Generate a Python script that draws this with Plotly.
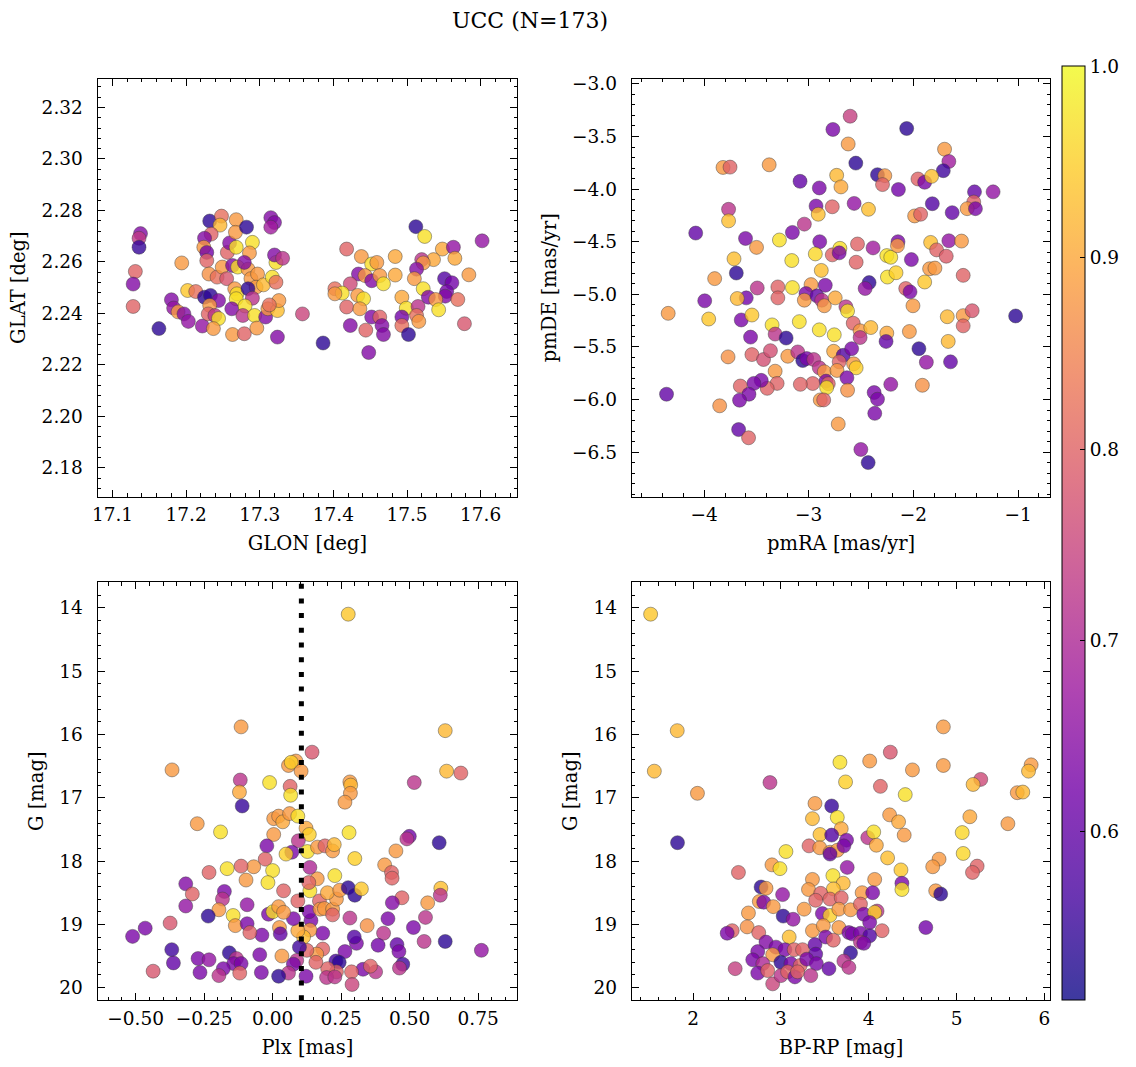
import plotly.graph_objects as go

TITLE = "UCC (N=173)"

# ---------------- Top-left: GLON vs GLAT ----------------
tl_glon = [17.138, 17.136, 17.136, 17.131, 17.128, 17.128, 17.163, 17.194, 17.180, 17.183,
           17.189, 17.197, 17.203, 17.202, 17.213, 17.222, 17.232, 17.248, 17.246, 17.234,
           17.225, 17.224, 17.228, 17.228, 17.231, 17.242, 17.249, 17.255, 17.225, 17.233,
           17.244, 17.232, 17.230, 17.239, 17.244, 17.237, 17.256, 17.259, 17.268, 17.268,
           17.267, 17.282, 17.290, 17.286, 17.263, 17.270, 17.284, 17.279, 17.288, 17.297,
           17.295, 17.305, 17.317, 17.322, 17.322, 17.320, 17.331, 17.315, 17.320, 17.315,
           17.266, 17.269, 17.268, 17.284, 17.290, 17.262, 17.280, 17.277, 17.293, 17.263,
           17.279, 17.296, 17.308, 17.311, 17.324, 17.326, 17.313, 17.324, 17.358, 17.386,
           17.418, 17.438, 17.452, 17.434, 17.443, 17.423, 17.402, 17.412, 17.402, 17.433,
           17.441, 17.418, 17.436, 17.423, 17.444, 17.452, 17.448, 17.512, 17.524, 17.602,
           17.548, 17.563, 17.565, 17.536, 17.520, 17.522, 17.513, 17.484, 17.459, 17.452,
           17.463, 17.468, 17.484, 17.510, 17.522, 17.529, 17.551, 17.561, 17.554, 17.552,
           17.539, 17.569, 17.543, 17.493, 17.499, 17.515, 17.513, 17.516, 17.493, 17.493,
           17.502, 17.463, 17.466, 17.468, 17.578, 17.584]
tl_glat = [2.2710, 2.2692, 2.2657, 2.2563, 2.2514, 2.2427, 2.2341, 2.2596, 2.2453, 2.2421,
           2.2406, 2.2398, 2.2369, 2.2489, 2.2485, 2.2351, 2.2759, 2.2778, 2.2743, 2.2708,
           2.2692, 2.2657, 2.2637, 2.2605, 2.2553, 2.2541, 2.2580, 2.2535, 2.2463, 2.2470,
           2.2450, 2.2431, 2.2398, 2.2392, 2.2380, 2.2341, 2.2637, 2.2674, 2.2657, 2.2764,
           2.2715, 2.2735, 2.2676, 2.2635, 2.2586, 2.2580, 2.2572, 2.2598, 2.2535, 2.2553,
           2.2502, 2.2511, 2.2541, 2.2521, 2.2598, 2.2627, 2.2614, 2.2772, 2.2753, 2.2735,
           2.2496, 2.2476, 2.2457, 2.2496, 2.2459, 2.2418, 2.2429, 2.2392, 2.2392, 2.2318,
           2.2321, 2.2343, 2.2386, 2.2418, 2.2411, 2.2450, 2.2433, 2.2308, 2.2398, 2.2285,
           2.2650, 2.2621, 2.2592, 2.2553, 2.2547, 2.2515, 2.2496, 2.2479, 2.2476, 2.2470,
           2.2457, 2.2425, 2.2418, 2.2353, 2.2335, 2.2386, 2.2248, 2.2737, 2.2699, 2.2682,
           2.2650, 2.2657, 2.2614, 2.2609, 2.2609, 2.2596, 2.2572, 2.2621, 2.2598, 2.2527,
           2.2547, 2.2515, 2.2549, 2.2535, 2.2496, 2.2463, 2.2535, 2.2519, 2.2485, 2.2467,
           2.2454, 2.2454, 2.2414, 2.2463, 2.2420, 2.2427, 2.2392, 2.2369, 2.2386, 2.2353,
           2.2318, 2.2386, 2.2353, 2.2318, 2.2360, 2.2550]
tl_prob = [0.64, 0.73, 0.55, 0.80, 0.64, 0.80, 0.54, 0.88, 0.64, 0.66,
           0.88, 0.64, 0.66, 0.94, 0.82, 0.66, 0.54, 0.82, 0.92, 0.80,
           0.64, 0.88, 0.62, 0.80, 0.87, 0.82, 0.88, 0.78, 0.54, 0.54,
           0.64, 0.88, 0.80, 0.72, 0.97, 0.88, 0.80, 0.64, 0.97, 0.88,
           0.88, 0.54, 0.97, 0.88, 0.64, 0.97, 0.88, 0.64, 0.88, 0.88,
           0.88, 0.92, 0.97, 0.82, 0.97, 0.64, 0.72, 0.64, 0.64, 0.68,
           0.88, 0.97, 0.97, 0.54, 0.72, 0.64, 0.97, 0.72, 0.97, 0.88,
           0.80, 0.88, 0.64, 0.88, 0.93, 0.88, 0.82, 0.64, 0.75, 0.54,
           0.80, 0.88, 0.97, 0.64, 0.88, 0.76, 0.82, 0.97, 0.88, 0.88,
           0.97, 0.80, 0.88, 0.64, 0.80, 0.64, 0.64, 0.54, 0.97, 0.66,
           0.90, 0.66, 0.90, 0.90, 0.72, 0.88, 0.64, 0.90, 0.88, 0.64,
           0.88, 0.97, 0.90, 0.88, 0.97, 0.64, 0.58, 0.62, 0.62, 0.64,
           0.88, 0.82, 0.97, 0.90, 0.97, 0.72, 0.82, 0.88, 0.62, 0.82,
           0.54, 0.80, 0.64, 0.64, 0.78, 0.88]

# ---------------- Top-right: pmRA vs pmDE ----------------
tr_pmra = [-2.604, -2.769, -2.064, -2.623, -2.550, -1.702, -1.661, -1.714, -3.819, -3.752,
           -3.378, -3.083, -2.899, -2.733, -2.692, -2.343, -2.273, -2.295, -2.143, -1.956,
           -1.892, -1.826, -1.416, -1.238, -1.423, -1.486, -1.407, -1.629, -1.819, -1.988,
           -1.931, -3.766, -3.766, -4.080, -3.604, -3.499, -3.714, -3.692, -3.899, -3.492,
           -3.295, -3.156, -3.280, -3.156, -3.042, -2.930, -2.909, -2.775, -2.566, -2.429,
           -2.895, -2.937, -2.775, -2.702, -2.709, -2.880, -3.162, -2.534, -2.547, -2.385,
           -2.254, -2.216, -2.147, -2.152, -2.019, -1.835, -1.778, -1.686, -1.661, -1.540,
           -1.845, -1.794, -1.892, -1.524, -2.248, -2.166, -2.423, -2.461, -2.842, -2.978,
           -2.073, -2.032,
           -3.597, -3.683, -3.994, -3.295, -3.026, -3.042, -2.921, -2.876, -2.851, -2.747,
           -2.645, -2.629, -2.575, -2.509, -2.509, -2.407, -2.004, -2.254, -2.261, -2.038,
           -1.947, -1.876, -1.645, -1.676, -1.667, -1.524, -1.524, -1.438, -1.023, -1.914,
           -2.216, -2.375, -2.343, -2.369, -2.502, -2.432, -2.718, -4.343, -3.956, -4.359,
           -3.851, -3.670, -3.575, -3.771, -3.645, -3.543, -3.350, -3.321, -3.216, -3.090,
           -2.899, -2.756, -3.556, -3.543, -3.432, -3.366, -3.200, -3.105, -3.057, -3.019,
           -2.952, -2.899, -2.851, -2.762, -2.670, -2.709, -2.590, -2.571, -2.547, -2.730,
           -2.635, -2.835, -2.813, -2.829, -2.962, -3.080, -3.321, -3.302, -3.397, -3.454,
           -3.524, -3.654, -3.571, -3.661, -2.629, -2.890, -2.857]
tr_pmde = [-3.307, -3.433, -3.424, -3.571, -3.753, -3.621, -3.737, -3.825, -3.794, -3.791,
           -3.769, -3.926, -3.989, -3.869, -3.979, -3.863, -3.872, -3.957, -4.004, -3.904,
           -3.935, -3.879, -4.026, -4.026, -4.123, -4.186, -4.186, -4.224, -4.139, -4.255,
           -4.239, -4.192, -4.302, -4.418, -4.469, -4.554, -4.663, -4.798, -4.851, -4.940,
           -4.930, -4.936, -4.484, -4.412, -4.333, -4.161, -4.239, -4.168, -4.136, -4.192,
           -4.500, -4.616, -4.625, -4.563, -4.606, -4.773, -4.679, -4.522, -4.695, -4.559,
           -4.632, -4.648, -4.500, -4.538, -4.670, -4.507, -4.578, -4.638, -4.491, -4.494,
           -4.757, -4.751, -4.883, -4.820, -4.836, -4.795, -4.889, -4.945, -4.914, -4.908,
           -4.945, -4.977,
           -5.034, -5.040, -5.062, -5.034, -4.993, -5.056, -5.015, -5.056, -5.109, -5.034,
           -5.119, -5.159, -5.275, -5.347, -5.411, -5.316, -5.109, -5.369, -5.448, -5.354,
           -5.517, -5.646, -5.642, -5.213, -5.448, -5.203, -5.300, -5.156, -5.206, -5.865,
           -5.856, -5.934, -5.997, -6.132, -6.475, -6.600, -6.233, -5.181, -5.235, -5.950,
           -6.060, -6.286, -6.364, -5.595, -5.244, -5.197, -5.291, -5.378, -5.416, -5.260,
           -5.338, -5.385, -5.407, -5.573, -5.620, -5.536, -5.589, -5.548, -5.630, -5.611,
           -5.620, -5.699, -5.737, -5.542, -5.580, -5.642, -5.517, -5.661, -5.699, -5.724,
           -5.793, -5.825, -5.850, -5.887, -5.848, -5.856, -5.731, -5.847, -5.894, -5.818,
           -5.847, -5.872, -5.950, -6.007, -5.912, -6.004, -6.004]
tr_prob = [0.74, 0.63, 0.54, 0.88, 0.54, 0.88, 0.68, 0.56, 0.88, 0.80,
           0.88, 0.60, 0.63, 0.92, 0.90, 0.54, 0.88, 0.80, 0.62, 0.80,
           0.63, 0.93, 0.60, 0.66, 0.80, 0.88, 0.63, 0.60, 0.58, 0.88,
           0.80, 0.72, 0.93, 0.60, 0.63, 0.88, 0.93, 0.54, 0.88, 0.72,
           0.80, 0.97, 0.97, 0.63, 0.72, 0.63, 0.93, 0.80, 0.66, 0.93,
           0.63, 0.96, 0.80, 0.97, 0.63, 0.93, 0.97, 0.80, 0.80, 0.68,
           0.97, 0.97, 0.63, 0.88, 0.63, 0.93, 0.80, 0.79, 0.66, 0.88,
           0.88, 0.88, 0.94, 0.80, 0.97, 0.95, 0.54, 0.66, 0.63, 0.88,
           0.80, 0.63,
           0.62, 0.92, 0.63, 0.80, 0.63, 0.88, 0.60, 0.72, 0.88, 0.90,
           0.72, 0.97, 0.80, 0.88, 0.72, 0.92, 0.88, 0.90, 0.60, 0.88,
           0.54, 0.66, 0.60, 0.92, 0.92, 0.88, 0.80, 0.78, 0.54, 0.87,
           0.66, 0.63, 0.63, 0.63, 0.66, 0.54, 0.88, 0.88, 0.94, 0.60,
           0.87, 0.60, 0.80, 0.87, 0.63, 0.94, 0.97, 0.72, 0.54, 0.97,
           0.97, 0.97, 0.63, 0.80, 0.77, 0.77, 0.88, 0.72, 0.54, 0.63,
           0.72, 0.72, 0.88, 0.90, 0.58, 0.80, 0.63, 0.88, 0.95, 0.88,
           0.63, 0.63, 0.80, 0.97, 0.80, 0.80, 0.88, 0.80, 0.80, 0.63,
           0.63, 0.80, 0.63, 0.63, 0.87, 0.88, 0.80]

# ---------------- Bottom-left: Plx vs G ----------------
PLX_LINE = 0.105
bl_plx = [0.276, -0.115, 0.630, -0.367, 0.144, 0.085, 0.058, 0.068, 0.104, -0.118,
          -0.011, 0.064, -0.121, 0.066, 0.282, 0.285, 0.284, 0.264, 0.517, 0.635,
          0.687, -0.111, -0.275, -0.190, 0.004, 0.022, 0.037, 0.062, 0.092, 0.122,
          0.134, 0.004, -0.021, 0.094, 0.070, 0.049, 0.127, 0.164, 0.191, 0.219,
          0.225, 0.279, 0.300, 0.499, 0.490, 0.608, 0.450, 0.409, 0.434, 0.436,
          0.614, 0.612, 0.566, 0.472, 0.437, 0.421, 0.514, 0.558, 0.553, 0.630,
          0.762, 0.405, 0.385, 0.454, 0.461, 0.475, 0.463, 0.345, 0.282, 0.330,
          0.376, 0.357, 0.288, 0.290, 0.306, 0.298, 0.264, 0.231, 0.243, 0.233,
          0.201, 0.197, 0.227, 0.183, 0.161, 0.158, 0.183, 0.125, 0.140, 0.136,
          0.113, 0.092, 0.098, 0.076, 0.133, 0.088, 0.076, 0.058, 0.122, 0.022,
          0.034, 0.025, 0.028, -0.015, 0.001, 0.022, 0.040, -0.039, -0.047, -0.041,
          0.171, 0.173, 0.189, 0.219, 0.219, 0.233, 0.200, 0.245, 0.276, 0.300,
          0.324, 0.227, 0.163, 0.136, 0.136, 0.132, 0.092, 0.040, -0.027, 0.000,
          -0.017, -0.069, -0.115, -0.097, -0.166, -0.232, -0.317, -0.293, -0.317, -0.176,
          -0.183, -0.196, -0.144, -0.093, -0.136, -0.093, -0.083, -0.235, -0.374, -0.465,
          -0.511, -0.368, -0.362, -0.436, -0.272, -0.232, -0.265, -0.158, -0.132, -0.142,
          -0.115, -0.180, -0.196, -0.120]
bl_g = [14.10, 15.88, 15.94, 16.56, 16.28, 16.42, 16.49, 16.44, 16.58, 16.72,
        16.76, 16.82, 16.91, 16.96, 16.75, 16.80, 16.93, 17.07, 16.76, 16.58,
        16.61, 17.13, 17.41, 17.54, 17.33, 17.29, 17.38, 17.25, 17.29, 17.48,
        17.58, 17.58, 17.76, 17.68, 17.86, 17.89, 17.85, 17.78, 17.76, 17.84,
        17.74, 17.55, 17.96, 17.61, 17.65, 17.71, 17.84, 18.06, 18.18, 18.27,
        18.43, 18.54, 18.66, 18.58, 18.66, 18.91, 19.05, 18.89, 19.27, 19.27,
        19.41, 19.14, 19.33, 19.32, 19.43, 19.63, 19.69, 19.02, 18.90, 19.71,
        19.75, 19.66, 19.75, 19.95, 19.30, 19.20, 19.43, 19.58, 19.60, 19.75,
        19.70, 19.84, 19.83, 19.39, 19.47, 19.60, 19.14, 19.41, 18.94, 19.09,
        19.20, 19.10, 19.36, 18.91, 18.80, 19.57, 19.63, 19.77, 19.82, 19.82,
        19.50, 19.05, 19.15, 18.84, 18.80, 18.72, 18.81, 19.17, 19.48, 19.76,
        18.63, 18.76, 18.75, 18.76, 18.85, 18.60, 18.50, 18.46, 18.42, 18.54,
        18.44, 18.23, 18.28, 18.10, 18.47, 18.34, 18.63, 18.47, 17.97, 18.15,
        18.34, 18.09, 18.08, 18.30, 18.12, 18.18, 18.36, 18.52, 18.71, 18.48,
        18.60, 18.77, 18.86, 18.69, 19.02, 18.99, 19.13, 18.87, 18.98, 19.06,
        19.19, 19.40, 19.61, 19.74, 19.54, 19.56, 19.76, 19.45, 19.54, 19.62,
        19.62, 19.70, 19.81, 19.77]
bl_prob = [0.94, 0.88, 0.92, 0.88, 0.78, 0.88, 0.88, 0.95, 0.88, 0.72,
           0.97, 0.80, 0.90, 0.97, 0.88, 0.92, 0.88, 0.88, 0.72, 0.92,
           0.80, 0.55, 0.88, 0.97, 0.88, 0.88, 0.90, 0.88, 0.97, 0.90,
           0.95, 0.88, 0.63, 0.72, 0.63, 0.95, 0.97, 0.88, 0.80, 0.88,
           0.92, 0.97, 0.95, 0.62, 0.72, 0.54, 0.88, 0.88, 0.80, 0.80,
           0.93, 0.72, 0.88, 0.80, 0.64, 0.63, 0.63, 0.72, 0.72, 0.54,
           0.66, 0.72, 0.62, 0.60, 0.63, 0.56, 0.72, 0.87, 0.72, 0.63,
           0.72, 0.80, 0.80, 0.75, 0.63, 0.58, 0.63, 0.57, 0.54, 0.80,
           0.80, 0.72, 0.72, 0.80, 0.88, 0.80, 0.63, 0.80, 0.63, 0.88,
           0.93, 0.90, 0.56, 0.63, 0.63, 0.72, 0.63, 0.72, 0.63, 0.54,
           0.88, 0.88, 0.60, 0.63, 0.97, 0.88, 0.88, 0.63, 0.63, 0.63,
           0.80, 0.88, 0.88, 0.88, 0.80, 0.88, 0.90, 0.88, 0.54, 0.54,
           0.94, 0.97, 0.88, 0.70, 0.97, 0.80, 0.80, 0.80, 0.80, 0.97,
           0.97, 0.88, 0.80, 0.88, 0.97, 0.80, 0.64, 0.80, 0.66, 0.63,
           0.72, 0.88, 0.97, 0.66, 0.88, 0.63, 0.80, 0.54, 0.78, 0.63,
           0.63, 0.56, 0.60, 0.78, 0.63, 0.66, 0.63, 0.54, 0.72, 0.63,
           0.63, 0.63, 0.72, 0.80]

# ---------------- Bottom-right: BP-RP vs G ----------------
br_bprp = [1.516, 1.819, 1.558, 2.049, 2.875, 3.672, 3.736, 4.011, 4.246, 4.133,
           4.498, 4.416, 4.850, 4.850, 5.276, 5.189, 5.850, 5.820, 5.692, 5.755,
           3.388, 3.578, 1.822, 3.359, 3.642, 3.687, 3.445, 3.578, 3.747, 3.320,
           3.442, 3.559, 3.642, 3.717, 3.559, 3.989, 4.057, 4.087, 4.238, 4.340,
           4.404, 4.215, 4.367, 4.378, 4.378, 5.152, 5.065, 5.076, 5.585, 4.801,
           4.729, 5.235, 5.182, 4.763, 4.820, 4.650, 3.057, 2.898, 2.989, 2.516,
           3.359, 3.592, 3.710, 3.755, 4.068, 3.314, 3.597, 3.925, 4.045, 2.774,
           2.830, 3.019, 3.453, 3.396, 3.558, 3.687, 2.754, 2.804, 2.913, 2.630,
           3.026, 3.139, 3.264, 3.472, 3.558, 3.660, 3.793, 3.906, 3.944, 4.095,
           4.068, 4.011, 4.152, 2.615, 2.747, 2.445, 2.388, 3.094, 3.359, 3.483,
           3.510, 3.597, 3.660, 3.774, 3.812, 3.906, 4.011, 3.906, 3.944, 3.793,
           2.830, 2.943, 3.045, 3.151, 3.246, 3.388, 3.396, 2.906, 2.736, 2.679,
           2.793, 3.000, 3.113, 3.219, 3.294, 3.404, 2.479, 2.736, 2.849, 2.906,
           3.000, 3.076, 3.159, 3.189, 3.340, 3.547, 3.717, 3.774]
br_g = [14.10, 15.94, 16.58, 16.93, 16.76, 16.44, 16.75, 16.42, 16.28, 16.82,
        16.56, 16.95, 15.88, 16.49, 16.71, 16.79, 16.48, 16.58, 16.92, 16.91,
        17.09, 17.13, 17.71, 17.33, 17.31, 17.49, 17.58, 17.59, 17.67, 17.76,
        17.79, 17.86, 17.83, 17.76, 17.89, 17.63, 17.54, 17.75, 17.27, 17.38,
        17.59, 17.95, 18.14, 18.35, 18.45, 17.30, 17.55, 17.88, 17.41, 17.97,
        18.09, 18.08, 18.18, 18.47, 18.52, 19.05, 17.85, 18.06, 18.12, 18.18,
        18.29, 18.23, 18.35, 18.10, 18.29, 18.45, 18.44, 18.50, 18.50, 18.41,
        18.43, 18.53, 18.51, 18.62, 18.60, 18.58, 18.64, 18.65, 18.72, 18.82,
        18.87, 18.92, 18.76, 18.83, 18.86, 18.76, 18.77, 18.68, 18.84, 18.79,
        18.81, 18.97, 19.10, 19.04, 19.13, 19.10, 19.14, 19.20, 19.10, 19.02,
        19.20, 19.25, 19.05, 19.13, 19.15, 19.14, 19.18, 19.28, 19.30, 19.45,
        19.28, 19.36, 19.40, 19.40, 19.40, 19.32, 19.47, 19.48, 19.43, 19.56,
        19.62, 19.60, 19.62, 19.65, 19.55, 19.62, 19.70, 19.77, 19.73, 19.94,
        19.81, 19.75, 19.83, 19.75, 19.81, 19.70, 19.58, 19.68]
br_prob = [0.94, 0.92, 0.92, 0.88, 0.72, 0.97, 0.95, 0.88, 0.78, 0.80,
           0.88, 0.97, 0.88, 0.88, 0.76, 0.92, 0.88, 0.92, 0.88, 0.92,
           0.88, 0.55, 0.54, 0.92, 0.97, 0.90, 0.93, 0.58, 0.63, 0.80,
           0.88, 0.88, 0.88, 0.63, 0.60, 0.72, 0.97, 0.90, 0.88, 0.90,
           0.88, 0.93, 0.94, 0.63, 0.97, 0.90, 0.96, 0.96, 0.88, 0.88,
           0.88, 0.80, 0.80, 0.88, 0.54, 0.62, 0.97, 0.88, 0.97, 0.80,
           0.88, 0.97, 0.92, 0.66, 0.88, 0.88, 0.93, 0.88, 0.63, 0.54,
           0.88, 0.66, 0.80, 0.80, 0.80, 0.80, 0.88, 0.63, 0.88, 0.88,
           0.54, 0.66, 0.88, 0.63, 0.95, 0.88, 0.88, 0.80, 0.63, 0.72,
           0.95, 0.63, 0.80, 0.87, 0.80, 0.80, 0.63, 0.93, 0.88, 0.88,
           0.63, 0.80, 0.88, 0.63, 0.63, 0.63, 0.58, 0.72, 0.63, 0.54,
           0.64, 0.63, 0.63, 0.80, 0.80, 0.60, 0.60, 0.88, 0.63, 0.63,
           0.70, 0.54, 0.63, 0.80, 0.63, 0.63, 0.74, 0.63, 0.80, 0.75,
           0.72, 0.80, 0.63, 0.80, 0.72, 0.60, 0.72, 0.72]

CMIN, CMAX = 0.512, 1.0
FONT = "DejaVu Serif"
TICK_SIZE = 18.5
LABEL_SIZE = 19.5
ALPHA = 0.8

# plasma colourmap drawn with the same transparency as the markers (as in the colorbar)
PLASMA = ["#0d0887", "#46039f", "#7201a8", "#9c179e", "#bd3786",
          "#d8576b", "#ed7953", "#fb9f3a", "#fdca26", "#f0f921"]

def rgba(h, a):
    h = h.lstrip("#")
    return "rgba(%d,%d,%d,%.2f)" % (int(h[0:2], 16), int(h[2:4], 16), int(h[4:6], 16), a)

CSCALE = [[i / (len(PLASMA) - 1), rgba(c, ALPHA)] for i, c in enumerate(PLASMA)]

fig = go.Figure()

def add_panel(x, y, c, xa, ya, show_cb=False):
    marker = dict(size=14, color=c, colorscale=CSCALE, cmin=CMIN, cmax=CMAX,
                  line=dict(width=0.6, color="rgba(60,60,60,0.75)"))
    if show_cb:
        marker.update(showscale=True, colorbar=dict(
            x=1062 / 1136, xanchor="left", xref="paper", y=1 - 1000 / 1067, yanchor="bottom",
            len=(1000 - 62) / 1067, lenmode="fraction", thickness=23, thicknessmode="pixels",
            outlinecolor="black", outlinewidth=1, ticks="inside", ticklen=5, tickcolor="black",
            tickvals=[0.6, 0.7, 0.8, 0.9, 1.0], tickformat=".1f",
            tickfont=dict(family=FONT, size=TICK_SIZE, color="black"), ypad=0, xpad=0))
    else:
        marker.update(showscale=False)
    fig.add_trace(go.Scatter(x=x, y=y, mode="markers", marker=marker, xaxis=xa, yaxis=ya,
                             showlegend=False, hoverinfo="skip"))

add_panel(tl_glon, tl_glat, tl_prob, "x", "y", show_cb=True)
add_panel(tr_pmra, tr_pmde, tr_prob, "x2", "y2")
add_panel(bl_plx, bl_g, bl_prob, "x3", "y3")
add_panel(br_bprp, br_g, br_prob, "x4", "y4")

fig.add_shape(type="line", xref="x3", yref="y3 domain", x0=PLX_LINE, x1=PLX_LINE, y0=0, y1=1,
              line=dict(color="black", width=5, dash="5px,9.7px"))

def ax(domain, rng, dtick, minor_dtick, title, anchor, fmt, is_y):
    d = dict(domain=domain, range=rng, anchor=anchor, dtick=dtick, tick0=0,
             showline=True, linecolor="black", linewidth=1, mirror="allticks",
             ticks="inside", ticklen=7, tickwidth=1, tickcolor="black",
             showgrid=False, zeroline=False, tickformat=fmt,
             ticklabelstandoff=10 if is_y else 1,
             minor=dict(ticks="inside", ticklen=3.5, tickwidth=1, tickcolor="black",
                        dtick=minor_dtick, tick0=0, showgrid=False),
             tickfont=dict(family=FONT, size=TICK_SIZE, color="black"),
             title=dict(text=title, font=dict(family=FONT, size=LABEL_SIZE, color="black"),
                        standoff=10 if is_y else 12))
    return d

xl = [92 / 1136, 514 / 1136]
xr = [629 / 1136, 1050 / 1136]
yt = [1 - 494 / 1067, 1 - 74 / 1067]
yb = [1 - 1000 / 1067, 1 - 580 / 1067]

fig.update_layout(
    width=1136, height=1067, margin=dict(l=0, r=0, t=0, b=0),
    paper_bgcolor="white", plot_bgcolor="white",
    font=dict(family=FONT, color="black"),
    title=dict(text=TITLE, x=530 / 1136, xanchor="center", y=1 - 20 / 1067, yanchor="middle",
               font=dict(family=FONT, size=22, color="black")),
    xaxis=ax(xl, [17.0796, 17.6498], 0.1, 0.02, "GLON [deg]", "y", ".1f", False),
    yaxis=ax(yt, [2.1688, 2.3312], 0.02, 0.004, "GLAT [deg]", "x", ".2f", True),
    xaxis2=ax(xr, [-4.692, -0.69], 1, 0.2, "pmRA [mas/yr]", "y2", "d", False),
    yaxis2=ax(yt, [-6.924, -2.95], 0.5, 0.1, "pmDE [mas/yr]", "x2", ".1f", True),
    xaxis3=ax(xl, [-0.639, 0.893], 0.25, 0.05, "Plx [mas]", "y3", ".2f", False),
    yaxis3=ax(yb, [20.2, 13.596], 1, 0.2, "G [mag]", "x3", "d", True),
    xaxis4=ax(xr, [1.30, 6.07], 1, 0.2, "BP-RP [mag]", "y4", "d", False),
    yaxis4=ax(yb, [20.2, 13.596], 1, 0.2, "G [mag]", "x4", "d", True),
)

fig.write_html("out.html")
